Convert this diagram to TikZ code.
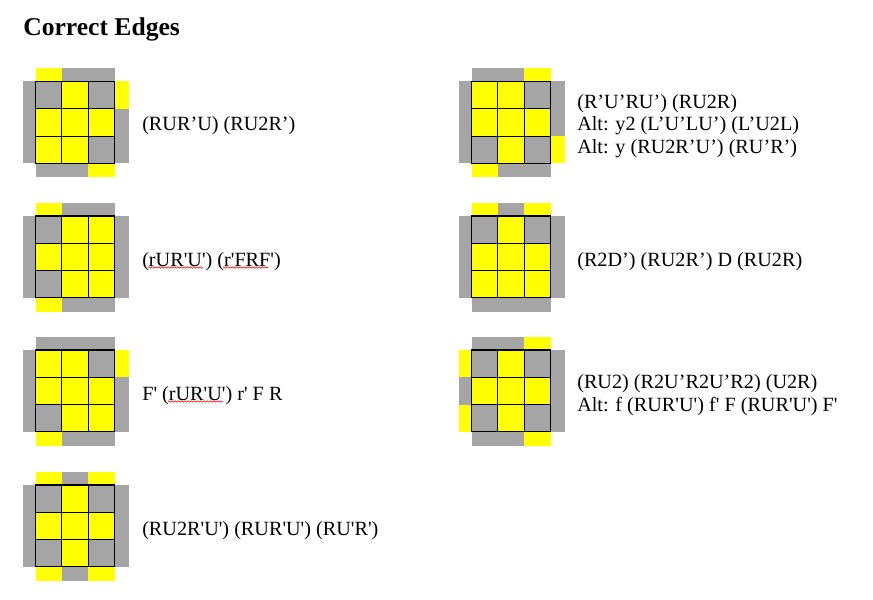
\documentclass[tikz,border=0pt]{standalone}
\usepackage{fontspec}
\usepackage{xcolor}
\usetikzlibrary{decorations.pathmorphing}
\newfontfamily\wordfont{Liberation Serif}
\definecolor{cubeY}{HTML}{FFFF00}
\definecolor{cubeG}{HTML}{A5A5A5}
\def\cellw{26.4}
\def\cellh{27.3}
% #1 name, #2 left, #3 top, #4 face, #5 top strip, #6 left strip, #7 right strip, #8 bottom strip
\newcommand{\lastlayer}[8]{
  \begin{scope}[shift={(#2,#3)}]
    \foreach \c [count=\i from 0] in {#5} {
      \fill[cube\c] (\i*\cellw,-13) rectangle ++(\cellw,13);
    }
    \foreach \c [count=\i from 0] in {#8} {
      \fill[cube\c] (\i*\cellw,3*\cellh) rectangle ++(\cellw,14);
    }
    \foreach \c [count=\i from 0] in {#6} {
      \fill[cube\c] (-12.5,\i*\cellh) rectangle ++(12.5,\cellh);
    }
    \foreach \c [count=\i from 0] in {#7} {
      \fill[cube\c] (3*\cellw,\i*\cellh) rectangle ++(14.5,\cellh);
    }
    \foreach \c [count=\i from 0] in {#4} {
      \pgfmathtruncatemacro{\row}{int(\i/3)}
      \pgfmathtruncatemacro{\col}{\i-3*\row}
      \node[tile,fill=cube\c] (#1-\i) at ({(\col+.5)*\cellw},{(\row+.5)*\cellh}) {};
    }
  \end{scope}
}
\tikzset{
  tile/.style={draw=black,line width=.8pt,minimum width=\cellw*.75pt,minimum height=\cellh*.75pt,inner sep=0pt,outer sep=0pt},
  algo/.style={anchor=base west,inner sep=0pt,font=\wordfont\fontsize{15.15}{17.1}\selectfont,text=black},
  algolines/.style={anchor=west,inner sep=0pt,align=left,font=\wordfont\fontsize{15.15}{17.1}\selectfont,text=black},
  spelling/.style={draw=red,line width=.45pt,decorate,decoration={snake,amplitude=.5pt,segment length=2.4pt,pre length=0pt,post length=0pt}}
}
\begin{document}
\begin{tikzpicture}[x=.75pt,y=-.75pt]
  \useasboundingbox (0,0) rectangle (873,599);
  \node[anchor=base west,inner sep=0pt,font=\wordfont\fontsize{19.2}{21}\selectfont\bfseries] (title) at (23,36) {Correct Edges};

  \lastlayer{sune}{35.5}{81.5}{G,Y,G,Y,Y,Y,Y,Y,G}{Y,G,G}{G,G,G}{Y,G,G}{G,G,Y}
  \lastlayer{bowtie}{35.5}{216}{G,Y,Y,Y,Y,Y,G,Y,Y}{Y,G,G}{G,G,G}{G,G,G}{Y,G,G}
  \lastlayer{chameleon}{35.5}{350}{Y,Y,G,Y,Y,Y,G,Y,Y}{G,G,G}{G,G,G}{Y,G,G}{Y,G,G}
  \lastlayer{cross}{35.5}{485}{G,Y,G,Y,Y,Y,G,Y,G}{Y,G,Y}{G,G,G}{G,G,G}{Y,G,Y}
  \lastlayer{antisune}{471.5}{81.5}{Y,Y,G,Y,Y,Y,G,Y,G}{G,G,Y}{G,G,G}{G,G,Y}{Y,G,G}
  \lastlayer{headlights}{471.5}{216}{G,Y,G,Y,Y,Y,Y,Y,Y}{Y,G,Y}{G,G,G}{G,G,G}{G,G,G}
  \lastlayer{pi}{471.5}{350}{G,Y,G,Y,Y,Y,G,Y,G}{G,G,Y}{Y,G,Y}{G,G,G}{G,G,Y}

  \node[algo] (sunetext) at (142,131) {(RUR’U) (RU2R’)};
  \node[algo] (bowtietext) at (142,266) {(rUR'U') (r'FRF')};
  \node[algo] (chameleontext) at (142,400) {F' (rUR'U') r' F R};
  \node[algo] (crosstext) at (142,535) {(RU2R'U') (RUR'U') (RU'R')};
  \node[algolines] (antisunetext) at (577,126) {(R’U’RU’) (RU2R)\\Alt: y2 (L’U’LU’) (L’U2L)\\Alt: y (RU2R’U’) (RU’R’)};
  \node[algo] (headlightstext) at (577,266) {(R2D’) (RU2R’) D (RU2R)};
  \node[algolines] (pitext) at (577,395) {(RU2) (R2U’R2U’R2) (U2R)\\Alt: f (RUR'U') f' F (RUR'U') F'};

  % spell checker underlines
  \draw[spelling] (148,267.5) -- (203,267.5);
  \draw[spelling] (223,267.5) -- (268,267.5);
  \draw[spelling] (168,401.5) -- (223,401.5);
\end{tikzpicture}
\end{document}
